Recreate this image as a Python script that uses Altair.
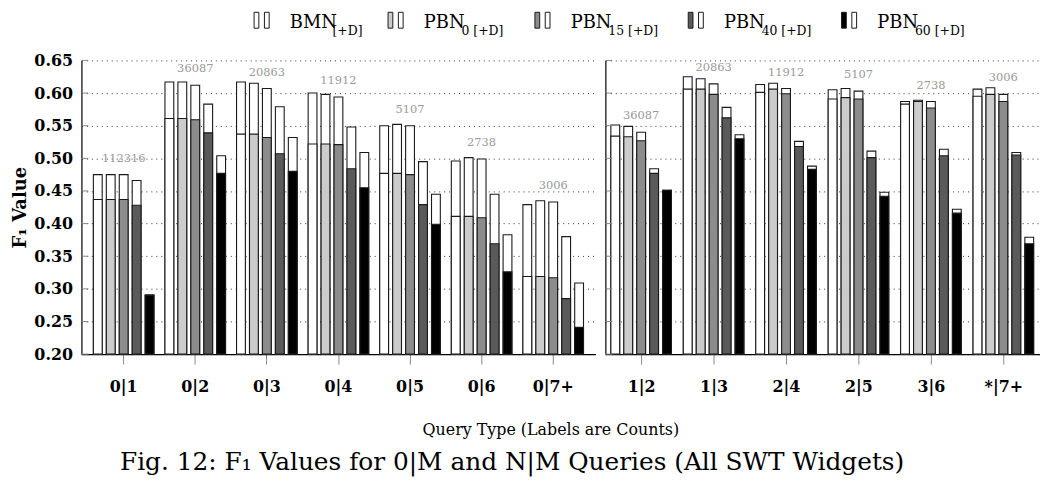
import altair as alt
import pandas as pd

FONT = "DejaVu Serif"

# ---------------- data ----------------
series = ["BMN", "PBN0", "PBN15", "PBN40", "PBN60"]
series_colors = ["#ffffff", "#cccccc", "#8c8c8c", "#5a5a5a", "#000000"]

groups_left = ["0|1", "0|2", "0|3", "0|4", "0|5", "0|6", "0|7+"]
counts_left = ["112316", "36087", "20863", "11912", "5107", "2738", "3006"]

left_base_bmn = [0.437, 0.561, 0.537, 0.522, 0.477, 0.411, 0.319]
left_base_pbn0 = [0.437, 0.561, 0.537, 0.522, 0.477, 0.411, 0.319]
left_base_pbn15 = [0.437, 0.559, 0.532, 0.521, 0.475, 0.409, 0.317]
left_base_pbn40 = [0.428, 0.539, 0.507, 0.484, 0.429, 0.369, 0.285]
left_base_pbn60 = [0.290, 0.477, 0.480, 0.455, 0.399, 0.326, 0.241]

left_d_bmn = [0.475, 0.617, 0.617, 0.600, 0.550, 0.496, 0.429]
left_d_pbn0 = [0.475, 0.617, 0.615, 0.598, 0.552, 0.501, 0.435]
left_d_pbn15 = [0.475, 0.612, 0.607, 0.594, 0.550, 0.499, 0.433]
left_d_pbn40 = [0.466, 0.583, 0.579, 0.548, 0.495, 0.445, 0.380]
left_d_pbn60 = [0.291, 0.504, 0.532, 0.509, 0.445, 0.383, 0.309]

groups_right = ["1|2", "1|3", "2|4", "2|5", "3|6", "*|7+"]
counts_right = ["36087", "20863", "11912", "5107", "2738", "3006"]

right_base_bmn = [0.534, 0.606, 0.601, 0.591, 0.583, 0.595]
right_base_pbn0 = [0.533, 0.606, 0.606, 0.593, 0.587, 0.598]
right_base_pbn15 = [0.527, 0.598, 0.599, 0.591, 0.577, 0.587]
right_base_pbn40 = [0.477, 0.562, 0.518, 0.501, 0.504, 0.505]
right_base_pbn60 = [0.451, 0.530, 0.483, 0.442, 0.416, 0.369]

right_d_bmn = [0.551, 0.625, 0.613, 0.605, 0.587, 0.606]
right_d_pbn0 = [0.549, 0.622, 0.615, 0.607, 0.589, 0.608]
right_d_pbn15 = [0.540, 0.614, 0.607, 0.603, 0.587, 0.598]
right_d_pbn40 = [0.484, 0.578, 0.526, 0.511, 0.514, 0.509]
right_d_pbn60 = [0.451, 0.536, 0.488, 0.448, 0.422, 0.379]

y_ticks = [0.20, 0.25, 0.30, 0.35, 0.40, 0.45, 0.50, 0.55, 0.60, 0.65]

legend_main = ["BMN", "PBN", "PBN", "PBN", "PBN"]
legend_sub = ["[+D]", "0 [+D]", "15 [+D]", "40 [+D]", "60 [+D]"]


def long_df(groups, counts, bases, tops):
    rows = []
    for s, b_list, t_list in zip(series, bases, tops):
        for g, c, b, t in zip(groups, counts, b_list, t_list):
            rows.append({"group": g, "series": s, "base": b, "top": t, "count": c})
    return pd.DataFrame(rows)


df_left = long_df(
    groups_left, counts_left,
    [left_base_bmn, left_base_pbn0, left_base_pbn15, left_base_pbn40, left_base_pbn60],
    [left_d_bmn, left_d_pbn0, left_d_pbn15, left_d_pbn40, left_d_pbn60],
)
df_right = long_df(
    groups_right, counts_right,
    [right_base_bmn, right_base_pbn0, right_base_pbn15, right_base_pbn40, right_base_pbn60],
    [right_d_bmn, right_d_pbn0, right_d_pbn15, right_d_pbn40, right_d_pbn60],
)

STROKE = "#1a1a1a"


def panel(df, groups, width, pad_outer, show_labels):
    x = alt.X(
        "group:N",
        sort=groups,
        scale=alt.Scale(domain=groups, paddingInner=0, paddingOuter=pad_outer),
        axis=alt.Axis(
            title=None, labelAngle=0, labelFont=FONT, labelFontSize=16,
            labelFontWeight="bold", labelColor="black", tickSize=10,
            tickColor="#888888", tickWidth=1, domainColor="black",
            domainWidth=1.2, labelPadding=15, grid=False,
        ),
    )
    xo = alt.XOffset(
        "series:N",
        sort=series,
        scale=alt.Scale(domain=series, paddingInner=0.32, paddingOuter=0.425),
    )
    yscale = alt.Scale(domain=[0.2, 0.65], nice=False, zero=False)
    yaxis = alt.Axis(
        values=y_ticks, format=".2f", labels=show_labels,
        title="F\u2081 Value" if show_labels else None,
        ticks=False, grid=True, gridDash=[1, 4], gridColor="#333333",
        gridWidth=1, domainColor="black", domainWidth=1.2,
        labelFont=FONT, labelFontSize=16, labelFontWeight="bold",
        labelColor="black", labelPadding=9,
        titleFont=FONT, titleFontSize=18, titleFontWeight="bold",
        titleColor="black", titlePadding=4,
    )

    tops = alt.Chart(df).mark_bar(fill="white", stroke=STROKE, strokeWidth=1.1).encode(
        x=x, xOffset=xo,
        y=alt.Y("top:Q", scale=yscale, axis=yaxis),
        y2=alt.datum(0.2),
    )
    bases = alt.Chart(df).mark_bar(stroke=STROKE, strokeWidth=1.1).encode(
        x=x, xOffset=xo,
        y=alt.Y("base:Q", scale=yscale, axis=yaxis),
        y2=alt.datum(0.2),
        fill=alt.Fill("series:N", scale=alt.Scale(domain=series, range=series_colors), legend=None),
    )
    labels = alt.Chart(df[df["series"] == "PBN15"]).mark_text(
        baseline="bottom", dy=-11, font=FONT, fontSize=11.5, color="#999999"
    ).encode(
        x=x, xOffset=xo,
        y=alt.Y("top:Q", scale=yscale, axis=yaxis),
        text="count:N",
    )
    inner_ticks = alt.Chart(pd.DataFrame({"v": y_ticks})).mark_rule(
        color="#888888", strokeWidth=1
    ).encode(
        y=alt.Y("v:Q", scale=yscale, axis=yaxis),
        x=alt.value(0), x2=alt.value(7),
    )
    return alt.layer(tops, bases, labels, inner_ticks).properties(width=width, height=296)


left = panel(df_left, groups_left, 518, 0.09, True)
right = panel(df_right, groups_right, 438, 0.0, False)

panels = alt.hconcat(left, right, spacing=10, bounds="flush").properties(
    title=alt.TitleParams(
        "Query Type (Labels are Counts)", orient="bottom", anchor="middle",
        font=FONT, fontSize=16, fontWeight="normal", color="black",
        offset=27, dx=25,
    )
)

# ---------------- legend ----------------
leg = pd.DataFrame({"main": legend_main, "sub": legend_sub, "color": series_colors})
leg["w"] = 109 + 6.5 * leg["sub"].str.len()
leg["start"] = 174 + leg["w"].cumsum().shift(fill_value=0)
leg["sub_start"] = leg["start"] + 36 + leg["main"].map({"BMN": 43, "PBN": 38})

LW = 900
lx = alt.X("start:Q", scale=alt.Scale(domain=[0, LW], range=[0, LW]), axis=None)
lxs = alt.X("sub_start:Q", scale=alt.Scale(domain=[0, LW], range=[0, LW]), axis=None)

icon_a = alt.Chart(leg).mark_point(
    shape="M0,-1H0.6V1H0Z", size=256, filled=True, opacity=1,
    stroke=STROKE, strokeWidth=1,
).encode(x=lx, y=alt.value(10.5), fill=alt.Fill("color:N", scale=None))
icon_b = alt.Chart(leg).mark_point(
    shape="M1.3,-1H1.9V1H1.3Z", size=256, filled=True, opacity=1,
    fill="white", stroke=STROKE, strokeWidth=1,
).encode(x=lx, y=alt.value(10.5))
main_txt = alt.Chart(leg).mark_text(
    align="left", baseline="alphabetic", dx=36, font=FONT, fontSize=18, color="black"
).encode(x=lx, y=alt.value(18.5), text="main:N")
sub_txt = alt.Chart(leg).mark_text(
    align="left", baseline="alphabetic", font=FONT, fontSize=12.5, color="black"
).encode(x=lxs, y=alt.value(25), text="sub:N")

legend_chart = alt.layer(icon_a, icon_b, main_txt, sub_txt).properties(width=LW, height=36)

chart = alt.vconcat(legend_chart, panels, spacing=7).properties(
    padding={"left": 4, "top": 0, "right": 0, "bottom": 0},
    title=alt.TitleParams(
        "Fig. 12: F\u2081 Values for 0|M and N|M Queries (All SWT Widgets)",
        orient="bottom", anchor="middle", font=FONT, fontSize=25,
        fontWeight="normal", color="black", offset=13, dx=-14,
    ),
).configure(font=FONT).configure_view(stroke=None)

chart.save("out.html", embed_options={"renderer": "svg", "actions": False})
